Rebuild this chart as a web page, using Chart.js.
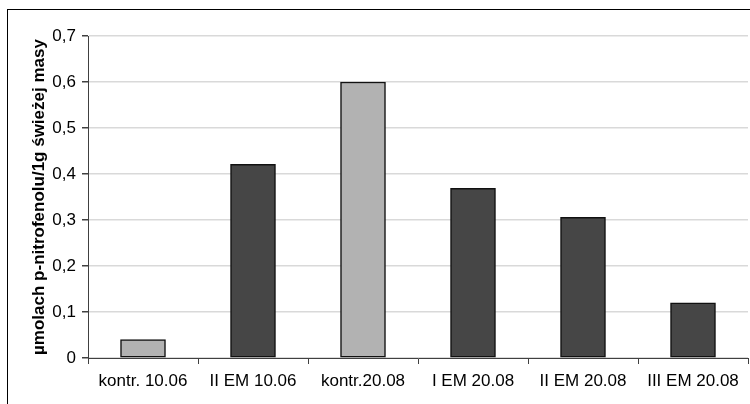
<!DOCTYPE html>
<html>
<head>
<meta charset="utf-8">
<script src="https://cdn.jsdelivr.net/npm/chart.js@4/dist/chart.umd.min.js"></script>
<style>
  html, body { margin: 0; padding: 0; background: #fff; }
  #wrap { position: relative; width: 750px; height: 404px; }
</style>
</head>
<body>
<div id="wrap"><canvas id="c" width="750" height="404"></canvas></div>
<script>
// Categories (sampling dates / treatments)
const categories = ['kontr. 10.06', 'II EM 10.06', 'kontr.20.08', 'I EM 20.08', 'II EM 20.08', 'III EM 20.08'];
// Activity in µmol p-nitrophenol per 1 g fresh mass
const activity = [0.04, 0.421, 0.600, 0.369, 0.306, 0.120];
// Control samples are shown in light grey, EM treatments in dark grey
const isControl = [true, false, true, false, false, false];
// Y-axis tick labels with decimal commas
const yTickLabels = ['0', '0,1', '0,2', '0,3', '0,4', '0,5', '0,6', '0,7'];
const yTitle = 'µmolach p-nitrofenolu/1g świeżej masy';

const FONT = '"Liberation Sans", Arial, sans-serif';

const framePlugin = {
  id: 'frame',
  beforeDraw(chart) {
    const ctx = chart.ctx;
    ctx.save();
    ctx.fillStyle = '#ffffff';
    ctx.fillRect(0, 0, chart.width, chart.height);
    ctx.strokeStyle = '#000000';
    ctx.lineWidth = 1;
    ctx.strokeRect(7.5, 9.5, 1000, 1000);
    ctx.restore();
  }
};

new Chart(document.getElementById('c'), {
  type: 'bar',
  data: {
    labels: categories,
    datasets: [{
      data: activity,
      backgroundColor: isControl.map(c => c ? '#b2b2b2' : '#464646'),
      borderColor: '#111111',
      borderWidth: 1.5,
      borderSkipped: false,
      barThickness: 45
    }]
  },
  options: {
    responsive: false,
    animation: false,
    events: [],
    layout: { padding: { left: 0, right: 2, top: 36, bottom: 0 } },
    plugins: { legend: { display: false }, tooltip: { enabled: false } },
    scales: {
      x: {
        grid: {
          display: true,
          drawOnChartArea: false,
          offset: true,
          tickLength: 6,
          tickColor: '#404040',
          color: '#404040'
        },
        border: { color: '#404040', width: 1 },
        ticks: {
          color: '#000',
          padding: 7,
          maxRotation: 0,
          autoSkip: false,
          font: { family: FONT, size: 17 }
        },
        afterFit(scale) { scale.height = 46; }
      },
      y: {
        min: 0,
        max: 0.7,
        ticks: {
          stepSize: 0.1,
          color: '#000',
          padding: 6,
          font: { family: FONT, size: 17 },
          callback: (v, i) => yTickLabels[i]
        },
        grid: {
          color: '#d9d9d9',
          tickColor: '#404040',
          tickLength: 6,
          lineWidth: 1.5
        },
        border: { color: '#404040', width: 1 },
        title: {
          display: true,
          text: yTitle,
          color: '#000',
          font: { family: FONT, size: 17, weight: 'bold' },
          padding: { top: 29, bottom: 0 }
        },
        afterFit(scale) { scale.width = 88; }
      }
    }
  },
  plugins: [framePlugin]
});
</script>
</body>
</html>
